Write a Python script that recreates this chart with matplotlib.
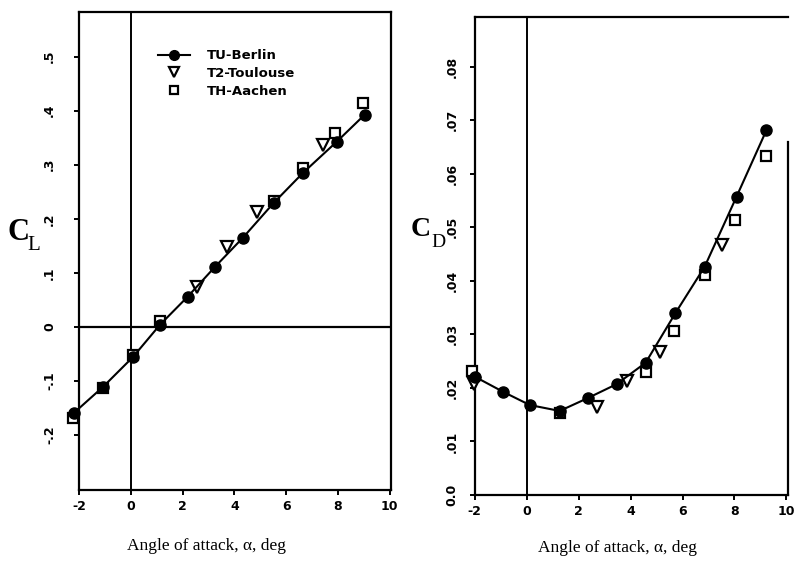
import numpy as np
import matplotlib
matplotlib.use('Agg')
import matplotlib.pyplot as plt
from matplotlib.lines import Line2D

# lift coefficient data (alpha in deg)
alpha_cl_tub = [-2.19, -1.07, 0.08, 1.13, 2.2, 3.25, 4.33, 5.53, 6.65, 7.96, 9.04]
cl_tub = [-0.159, -0.111, -0.056, 0.004, 0.056, 0.111, 0.165, 0.23, 0.285, 0.343, 0.393]
alpha_cl_t2 = [2.55, 3.71, 4.87, 7.42]
cl_t2 = [0.074, 0.148, 0.213, 0.337]
alpha_cl_tha = [-2.23, -1.07, 0.08, 1.13, 5.53, 6.65, 7.88, 8.97]
cl_tha = [-0.168, -0.113, -0.052, 0.011, 0.232, 0.294, 0.359, 0.415]

# drag coefficient data
alpha_cd_tub = [-2.0, -0.92, 0.12, 1.27, 2.35, 3.46, 4.58, 5.73, 6.85, 8.08, 9.23]
cd_tub = [0.0221, 0.0193, 0.0168, 0.0157, 0.0181, 0.0207, 0.0247, 0.0340, 0.0426, 0.0557, 0.0681]
alpha_cd_t2 = [-2.05, 2.69, 3.85, 5.12, 7.54]
cd_t2 = [0.0207, 0.0165, 0.0212, 0.0267, 0.0467]
alpha_cd_tha = [-2.12, 1.27, 4.58, 5.69, 6.85, 8.04, 9.23]
cd_tha = [0.0232, 0.0153, 0.0230, 0.0307, 0.0410, 0.0514, 0.0634]

x_ticks = [-2, 0, 2, 4, 6, 8, 10]
cl_ticks = [-0.2, -0.1, 0, 0.1, 0.2, 0.3, 0.4, 0.5]
cl_ticklabels = ['-.2', '-.1', '0', '.1', '.2', '.3', '.4', '.5']
cd_ticks = [0, 0.01, 0.02, 0.03, 0.04, 0.05, 0.06, 0.07, 0.08]
cd_ticklabels = ['0.0', '.01', '.02', '.03', '.04', '.05', '.06', '.07', '.08']

fig = plt.figure(figsize=(7.94, 5.81), dpi=100)
ax1 = fig.add_axes([0.0995, 0.1566, 0.393, 0.823])
ax2 = fig.add_axes([0.598, 0.148, 0.394, 0.823])

tick_font = dict(fontsize=9, fontweight='bold', family='DejaVu Sans')


def style_axes(ax, yticks, ylabels, ypad):
    for s in ax.spines.values():
        s.set_linewidth(1.6)
    ax.set_xticks(x_ticks)
    ax.set_xticklabels([str(t) for t in x_ticks], **tick_font)
    ax.set_yticks(yticks)
    ax.set_yticklabels(ylabels, rotation=90, va='center', **tick_font)
    ax.tick_params(axis='both', direction='out', length=3.5, width=1.4)
    ax.tick_params(axis='x', pad=4)
    ax.tick_params(axis='y', pad=ypad)
    ax.axvline(0, color='black', lw=1.4, zorder=1)


def draw_series(ax, a_tub, v_tub, a_t2, v_t2, a_tha, v_tha):
    ax.plot(a_tha, v_tha, ls='none', marker='s', ms=7, mfc='white',
            mec='black', mew=1.6, zorder=3, clip_on=False)
    ax.plot(a_t2, v_t2, ls='none', marker='v', ms=8, mfc='white',
            mec='black', mew=1.6, zorder=3, clip_on=False)
    ax.plot(a_tub, v_tub, color='black', lw=1.5, marker='o', ms=8,
            mfc='black', mec='black', zorder=4, clip_on=False)


# CL panel
draw_series(ax1, alpha_cl_tub, cl_tub, alpha_cl_t2, cl_t2, alpha_cl_tha, cl_tha)
ax1.axhline(0, color='black', lw=1.6, zorder=1)
ax1.set_xlim(-2, 10.05)
ax1.set_ylim(-0.302, 0.583)
style_axes(ax1, cl_ticks, cl_ticklabels, 13)

handles = [
    Line2D([], [], color='black', lw=1.5, marker='o', ms=7),
    Line2D([], [], ls='none', marker='v', ms=6.5, mfc='white', mec='black', mew=1.6),
    Line2D([], [], ls='none', marker='s', ms=5.5, mfc='white', mec='black', mew=1.6),
]
ax1.legend(handles, ['TU-Berlin', 'T2-Toulouse', 'TH-Aachen'],
           loc='upper left', bbox_to_anchor=(0.199, 0.915),
           bbox_transform=fig.transFigure, borderpad=0, borderaxespad=0,
           frameon=False, handlelength=2.4, labelspacing=0.35,
           handletextpad=1.3,
           prop=dict(size=9.5, weight='bold', family='DejaVu Sans'))

# CD panel
draw_series(ax2, alpha_cd_tub, cd_tub, alpha_cd_t2, cd_t2, alpha_cd_tha, cd_tha)
ax2.set_xlim(-2, 10.05)
ax2.set_ylim(0, 0.0893)
style_axes(ax2, cd_ticks, cd_ticklabels, 8)
ax2.spines['right'].set_bounds(0, 0.066)

serif = 'Liberation Serif'
fig.text(0.010, 0.600, 'C', fontsize=22, family=serif, va='center', weight='bold')
fig.text(0.035, 0.578, 'L', fontsize=15, family=serif, va='center')
fig.text(0.517, 0.605, 'C', fontsize=20, family=serif, va='center', weight='bold')
fig.text(0.543, 0.583, 'D', fontsize=14, family=serif, va='center')

fig.text(0.26, 0.054, 'Angle of attack, \u03b1, deg', fontsize=12.5,
         family=serif, ha='center')
fig.text(0.778, 0.050, 'Angle of attack, \u03b1, deg', fontsize=12.5,
         family=serif, ha='center')

fig.savefig('out.png', dpi=100)
